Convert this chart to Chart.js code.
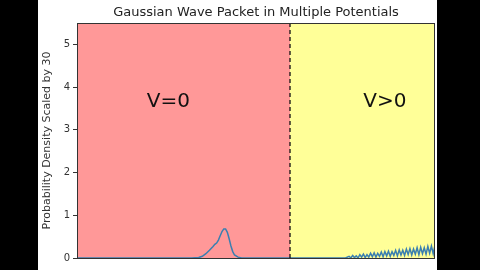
<!DOCTYPE html>
<html>
<head>
<meta charset="utf-8">
<script src="https://cdn.jsdelivr.net/npm/chart.js@4"></script>
<style>
  html, body { margin: 0; padding: 0; background: #000; }
  #wrap { width: 480px; height: 270px; }
</style>
</head>
<body>
<div id="wrap"><canvas id="waveChart" width="480" height="270"></canvas></div>
<script>
// wave packet |psi|^2 (scaled by 30)
const waveX = [0, 3.2, 3.4, 3.5, 3.6, 3.7, 3.8, 3.85, 3.9, 3.95, 4.0, 4.05, 4.1, 4.15, 4.2, 4.25, 4.3, 4.35, 4.4, 4.5, 4.6, 7.5,
  7.60, 7.65, 7.70, 7.75, 7.80, 7.85, 7.90, 7.95, 8.00, 8.05, 8.10, 8.15, 8.20, 8.25, 8.30, 8.35, 8.40, 8.45, 8.50, 8.55,
  8.60, 8.65, 8.70, 8.75, 8.80, 8.85, 8.90, 8.95, 9.00, 9.05, 9.10, 9.15, 9.20, 9.25, 9.30, 9.35, 9.40, 9.45, 9.50, 9.55,
  9.60, 9.65, 9.70, 9.75, 9.80, 9.85, 9.90, 9.95, 10.00];
const waveY = [0, 0, 0.01, 0.04, 0.1, 0.18, 0.27, 0.32, 0.35, 0.42, 0.52, 0.62, 0.68, 0.68, 0.6, 0.45, 0.28, 0.15, 0.07, 0.02, 0, 0,
  0.04, 0, 0.06, 0.01, 0.05, 0, 0.08, 0.02, 0.09, 0.01, 0.08, 0.02, 0.11, 0.03, 0.12, 0.02, 0.11, 0.04, 0.14, 0.03,
  0.15, 0.05, 0.16, 0.04, 0.15, 0.06, 0.18, 0.05, 0.19, 0.07, 0.18, 0.06, 0.21, 0.08, 0.22, 0.07, 0.21, 0.09, 0.24, 0.08,
  0.25, 0.10, 0.24, 0.09, 0.27, 0.11, 0.28, 0.10, 0.30];

const barrierX = 5.95;
const regionLabels = ['V=0', 'V>0'];
const labelX = [2.55, 8.6];
const labelY = 3.65;
const yTicks = [0, 1, 2, 3, 4, 5];

const points = waveX.map((x, i) => ({x: x, y: waveY[i]}));

const regionsPlugin = {
  id: 'regions',
  beforeDraw(chart) {
    const ctx = chart.ctx;
    const a = chart.chartArea;
    const xs = chart.scales.x;
    ctx.save();
    ctx.fillStyle = '#000';
    ctx.fillRect(0, 0, 38, 270);
    ctx.fillRect(437, 0, 43, 270);
    ctx.fillStyle = '#fff';
    ctx.fillRect(38, 0, 399, 270);
    const bx = xs.getPixelForValue(barrierX);
    ctx.fillStyle = 'rgb(255,152,152)';
    ctx.fillRect(a.left, a.top, bx - a.left, a.bottom - a.top);
    ctx.fillStyle = 'rgb(255,255,152)';
    ctx.fillRect(bx, a.top, a.right - bx, a.bottom - a.top);
    // title, centred over the plot
    ctx.fillStyle = '#222';
    ctx.font = '13px "DejaVu Sans"';
    ctx.textAlign = 'center';
    ctx.textBaseline = 'middle';
    ctx.fillText('Gaussian Wave Packet in Multiple Potentials', (a.left + a.right) / 2, 13);
    // region labels
    ctx.font = '20px "DejaVu Sans"';
    ctx.fillStyle = '#111';
    regionLabels.forEach((t, i) => {
      ctx.fillText(t, xs.getPixelForValue(labelX[i]), chart.scales.y.getPixelForValue(labelY));
    });
    ctx.restore();
  },
  afterDatasetsDraw(chart) {
    const ctx = chart.ctx;
    const a = chart.chartArea;
    const bx = chart.scales.x.getPixelForValue(barrierX);
    ctx.save();
    ctx.strokeStyle = '#111';
    ctx.lineWidth = 1.3;
    ctx.setLineDash([4, 3]);
    ctx.beginPath();
    ctx.moveTo(bx, a.top);
    ctx.lineTo(bx, a.bottom);
    ctx.stroke();
    ctx.setLineDash([]);
    ctx.strokeStyle = '#333';
    ctx.lineWidth = 1;
    ctx.strokeRect(a.left + 0.5, a.top + 0.5, a.right - a.left - 1, a.bottom - a.top);
    ctx.restore();
  }
};

const data = {
  datasets: [{
    label: 'wave packet',
    data: points,
    borderColor: '#3a7fb0',
    borderWidth: 1.5,
    pointRadius: 0,
    fill: false,
    tension: 0
  }]
};

const options = {
  responsive: false,
  animation: false,
  layout: {
    padding: {left: 38, right: 45, top: 23, bottom: 12}
  },
  plugins: {
    legend: {display: false},
    title: {display: false},
    tooltip: {enabled: false}
  },
  scales: {
    x: {
      type: 'linear',
      min: 0,
      max: 10,
      display: false
    },
    y: {
      min: 0,
      max: 5.5,
      afterFit(scale) { scale.width = 39; },
      afterBuildTicks(scale) { scale.ticks = yTicks.map(v => ({value: v})); },
      grid: {display: true, drawOnChartArea: false, tickLength: 4, color: '#333'},
      border: {color: '#333'},
      ticks: {color: '#333', font: {family: 'DejaVu Sans', size: 10}, padding: 3},
      title: {
        display: true,
        text: 'Probability Density Scaled by 30',
        color: '#333',
        font: {family: 'DejaVu Sans', size: 11},
        padding: {top: 3, bottom: 0}
      }
    }
  }
};

const config = {
  type: 'line',
  data: data,
  options: options,
  plugins: [regionsPlugin]
};

const waveCanvas = document.getElementById('waveChart');
const waveChart = new Chart(waveCanvas, config);
</script>
</body>
</html>
